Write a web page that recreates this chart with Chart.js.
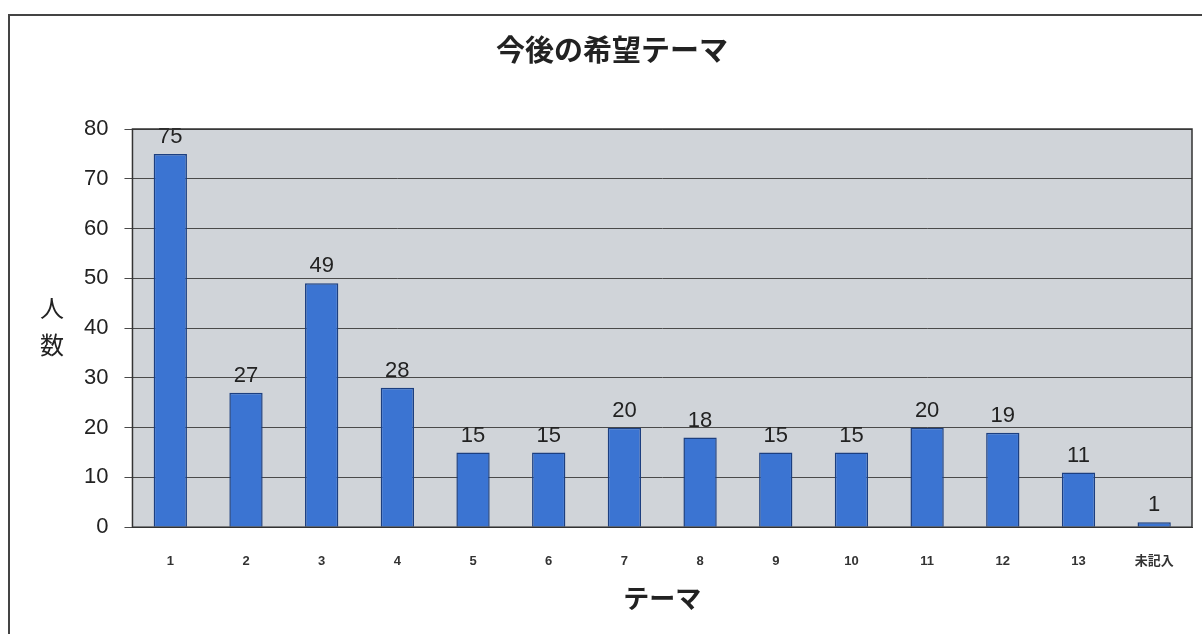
<!DOCTYPE html>
<html>
<head>
<meta charset="utf-8">
<script src="https://cdn.jsdelivr.net/npm/chart.js@4"></script>
<style>
  body { margin: 0; background: #fff; }
  #wrap { position: relative; width: 1202px; height: 634px; }
  #frame { position: absolute; left: 8px; top: 14px; width: 1200px; height: 640px; border-left: 2px solid #444; border-top: 2px solid #444; }
  canvas { position: absolute; left: 0; top: 0; }
</style>
</head>
<body>
<div id="wrap">
  <div id="frame"></div>
  <canvas id="chart" width="1202" height="634"></canvas>
</div>
<script>
// データ
const categories = ['1', '2', '3', '4', '5', '6', '7', '8', '9', '10', '11', '12', '13', '未記入'];
const counts = [75, 27, 49, 28, 15, 15, 20, 18, 15, 15, 20, 19, 11, 1];
const yTicks = [0, 10, 20, 30, 40, 50, 60, 70, 80];

const chartTitle = '今後の希望テーマ';
const jpFont = '"Liberation Sans", "Noto Sans CJK JP", sans-serif';

// プロット領域の背景、タイトル、縦書きの軸ラベル
const bgPlugin = {
  id: 'bgPlugin',
  beforeDraw(chart) {
    const { ctx, chartArea } = chart;
    ctx.save();
    ctx.fillStyle = '#d0d4d9';
    ctx.fillRect(chartArea.left, chartArea.top, chartArea.right - chartArea.left, chartArea.bottom - chartArea.top);
    ctx.restore();
  },
  afterDraw(chart) {
    const { ctx, chartArea } = chart;
    ctx.save();
    ctx.strokeStyle = '#333';
    ctx.lineWidth = 1.5;
    ctx.strokeRect(chartArea.left, chartArea.top, chartArea.right - chartArea.left, chartArea.bottom - chartArea.top);
    ctx.fillStyle = '#222';
    ctx.textAlign = 'center';
    ctx.textBaseline = 'middle';
    ctx.font = 'bold 29px "Noto Sans CJK JP"';
    ctx.fillText(chartTitle, 612, 50);
    ctx.font = '24px "Noto Sans CJK JP"';
    ctx.fillText('人', 52, 308);
    ctx.fillText('数', 52, 345);
    ctx.restore();
  },
};

// 棒の上に値を表示
const valueLabels = {
  id: 'valueLabels',
  afterDatasetsDraw(chart) {
    const { ctx } = chart;
    const meta = chart.getDatasetMeta(0);
    ctx.save();
    ctx.fillStyle = '#222';
    ctx.font = '22px ' + jpFont;
    ctx.textAlign = 'center';
    ctx.textBaseline = 'bottom';
    meta.data.forEach((bar, i) => {
      ctx.fillText(String(counts[i]), bar.x, bar.y - 6);
    });
    ctx.restore();
  },
};

new Chart(document.getElementById('chart'), {
  type: 'bar',
  data: {
    labels: categories,
    datasets: [
      {
        label: '人数',
        data: counts,
        backgroundColor: '#3b74d2',
        borderColor: '#1c3f80',
        borderWidth: 1.5,
        barPercentage: 0.44,
        categoryPercentage: 1,
      },
    ],
  },
  options: {
    responsive: false,
    animation: false,
    layout: {
      padding: { left: 68, right: 10, top: 129, bottom: 20 },
    },
    plugins: {
      legend: { display: false },
      tooltip: { enabled: false },
      title: { display: false },
    },
    scales: {
      x: {
        grid: { display: false },
        border: { color: '#333' },
        ticks: {
          color: '#333',
          font: { family: jpFont, size: 13, weight: 'bold' },
          padding: 18,
        },
        title: {
          display: true,
          text: 'テーマ',
          color: '#222',
          font: { family: '"Noto Sans CJK JP"', size: 26, weight: 'bold' },
          padding: { top: -4, bottom: 0 },
        },
      },
      y: {
        min: 0,
        max: 80,
        afterBuildTicks(axis) {
          axis.ticks = yTicks.map((v) => ({ value: v }));
        },
        grid: { color: '#4a4a4a', lineWidth: 1, drawTicks: true, tickLength: 8 },
        border: { color: '#333' },
        ticks: {
          color: '#222',
          font: { family: jpFont, size: 22 },
          padding: 16,
        },
      },
    },
  },
  plugins: [bgPlugin, valueLabels],
});
</script>
</body>
</html>
